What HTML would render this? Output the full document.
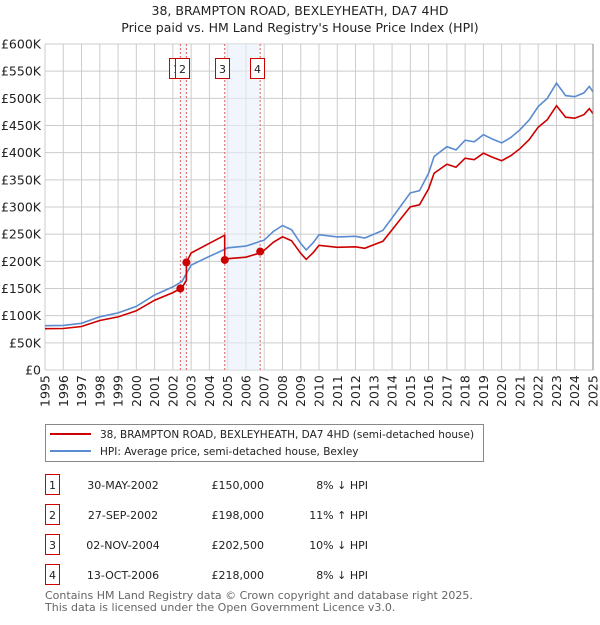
<!DOCTYPE html>
<html><head><meta charset="utf-8"><style>
body{margin:0;background:#fff;font-family:"Liberation Sans","DejaVu Sans",sans-serif;}
svg text{font-family:"DejaVu Sans","Liberation Sans",sans-serif;}
</style></head><body>
<svg id="c" width="600" height="620" xmlns="http://www.w3.org/2000/svg">
<text x="300" y="15" text-anchor="middle" font-size="12.5" fill="#222">38, BRAMPTON ROAD, BEXLEYHEATH, DA7 4HD</text>
<text x="300" y="32" text-anchor="middle" font-size="12.5" fill="#222">Price paid vs. HM Land Registry's House Price Index (HPI)</text>
<g id="grid"></g><g id="shade"></g><g id="lines"></g><g id="marks"></g><g id="axes"></g>
<g>
<rect x="45.5" y="424.5" width="438" height="37" fill="#fff" stroke="#888"/>
<line x1="50" y1="434" x2="91" y2="434" stroke="#cc0000" stroke-width="2"/>
<text x="100" y="438" font-size="10.5" fill="#222">38, BRAMPTON ROAD, BEXLEYHEATH, DA7 4HD (semi-detached house)</text>
<line x1="50" y1="451" x2="91" y2="451" stroke="#5b8bd0" stroke-width="2"/>
<text x="100" y="455" font-size="10.5" fill="#222">HPI: Average price, semi-detached house, Bexley</text>
</g>
<g id="table"></g>
<text x="45" y="599" font-size="11" fill="#666">Contains HM Land Registry data © Crown copyright and database right 2025.</text>
<text x="45" y="611" font-size="11" fill="#666">This data is licensed under the Open Government Licence v3.0.</text>
</svg>
<script>
const hpiYears=[1995,1996,1997,1998,1999,2000,2001,2002,2002.5,2003,2004,2004.7,2005,2006,2007,2007.5,2008,2008.5,2009,2009.3,2009.7,2010,2011,2012,2012.5,2013,2013.5,2014,2014.5,2015,2015.5,2016,2016.3,2017,2017.5,2018,2018.5,2019,2019.5,2020,2020.5,2021,2021.5,2022,2022.5,2023,2023.5,2024,2024.5,2024.8,2025];
const hpiValues=[81.6,82,86,98,105,117,138,153,163,193,209,220,225,228,239,255,266,258,233,221,235,249,245,246,243,250,257,280,303,326,330,362,393,411,405,423,420,433,425,418,428,442,460,485,500,528,505,503,510,522,512];
const saleDates=[2002.41,2002.74,2004.84,2006.78];
const salePrices=[150,198,202.5,218];
const saleLabels=["1","2","3","4"];
const saleDateText=["30-MAY-2002","27-SEP-2002","02-NOV-2004","13-OCT-2006"];
const salePriceText=["£150,000","£198,000","£202,500","£218,000"];
const saleHpiText=["8% ↓ HPI","11% ↑ HPI","10% ↓ HPI","8% ↓ HPI"];
const yTicks=[0,50,100,150,200,250,300,350,400,450,500,550,600];
const yTickLabels=["£0","£50K","£100K","£150K","£200K","£250K","£300K","£350K","£400K","£450K","£500K","£550K","£600K"];
const xTicks=[1995,1996,1997,1998,1999,2000,2001,2002,2003,2004,2005,2006,2007,2008,2009,2010,2011,2012,2013,2014,2015,2016,2017,2018,2019,2020,2021,2022,2023,2024,2025];

const X0=45,X1=593,Y0=370,Y1=44;
const x=t=>X0+(t-1995)/30*(X1-X0);
const y=v=>Y0-v/600*(Y0-Y1);
const NS="http://www.w3.org/2000/svg";
function mk(tag,attrs,parent,txt){const e=document.createElementNS(NS,tag);for(const k in attrs)e.setAttribute(k,attrs[k]);if(txt!==undefined)e.textContent=txt;document.getElementById(parent).appendChild(e);return e;}
function hpiAt(t){for(let i=0;i<hpiYears.length-1;i++){if(t<=hpiYears[i+1]){const f=(t-hpiYears[i])/(hpiYears[i+1]-hpiYears[i]);return hpiValues[i]+f*(hpiValues[i+1]-hpiValues[i]);}}return hpiValues[hpiValues.length-1];}

for(const v of yTicks){const l=mk('line',{x1:X0,x2:X1,y1:y(v),y2:y(v),stroke:'#ccc'},'grid');

}
for(const t of xTicks){const l=mk('line',{x1:x(t),x2:x(t),y1:Y1,y2:Y0,stroke:'#ccc'},'grid');

}
[[0,1],[2,3]].forEach(p=>{const r=mk('rect',{x:x(saleDates[p[0]]),y:Y1,width:x(saleDates[p[1]])-x(saleDates[p[0]]),height:Y0-Y1,fill:'#e8eefa',opacity:0.6},'shade');

});
saleDates.forEach(d=>{const l=mk('line',{x1:x(d),x2:x(d),y1:Y1,y2:Y0,stroke:'#e06060','stroke-dasharray':'2,2'},'shade');

});
let pts=hpiYears.map((t,i)=>x(t).toFixed(1)+','+y(hpiValues[i]).toFixed(1)).join(' ');
const hl=mk('polyline',{points:pts,fill:'none',stroke:'#5b8bd0','stroke-width':1.6},'lines');


function ratioAt(t){let k=0;for(let i=0;i<saleDates.length;i++)if(t>=saleDates[i])k=i;return salePrices[k]/hpiAt(saleDates[k]);}
let times=hpiYears.concat(saleDates).sort((a,b)=>a-b);
let rpts=[];for(const t of times){const idx=saleDates.indexOf(t);if(idx>0){const prev=hpiAt(t)*salePrices[idx-1]/hpiAt(saleDates[idx-1]);rpts.push(x(t).toFixed(1)+','+y(prev).toFixed(1));}rpts.push(x(t).toFixed(1)+','+y(hpiAt(t)*ratioAt(t)).toFixed(1));}
const rl=mk('polyline',{points:rpts.join(' '),fill:'none',stroke:'#cc0000','stroke-width':1.6},'lines');


saleDates.forEach((d,i)=>{const c=mk('circle',{cx:x(d),cy:y(salePrices[i]),r:4,fill:'#cc0000'},'marks');

});
const boxX=[169,175,215,250];
saleLabels.forEach((s,i)=>{const r=mk('rect',{x:boxX[i]+0.5,y:58.5,width:14,height:20,fill:'#fff',stroke:'#cc0000'},'marks');


const t=mk('text',{x:boxX[i]+7.5,y:73,'text-anchor':'middle','font-size':11,fill:'#222'},'marks',s);

});
const ax=mk('line',{x1:X1,x2:X1,y1:Y1,y2:Y0,stroke:'#888'},'axes');


yTicks.forEach((v,i)=>{const t=mk('text',{x:41,y:y(v)+4.5,'text-anchor':'end','font-size':12.5,fill:'#222'},'axes',yTickLabels[i]);

});
xTicks.forEach(v=>{const t=mk('text',{transform:`translate(${x(v)+4.5},407) rotate(-90)`,'font-size':12.5,fill:'#222'},'axes',String(v));

});
saleLabels.forEach((s,i)=>{const cy=485+i*30;
const r=mk('rect',{x:45.5,y:cy-10.5,width:14,height:20,fill:'#fff',stroke:'#cc0000'},'table');


const a=mk('text',{x:52.5,y:cy+4,'text-anchor':'middle','font-size':11,fill:'#222'},'table',s);


const b=mk('text',{x:123,y:cy+4,'text-anchor':'middle','font-size':11,fill:'#222'},'table',saleDateText[i]);


const c=mk('text',{x:264,y:cy+4,'text-anchor':'end','font-size':11,fill:'#222'},'table',salePriceText[i]);


const d=mk('text',{x:368,y:cy+4,'text-anchor':'end','font-size':11,fill:'#222'},'table',saleHpiText[i]);

});
</script>
</body></html>
